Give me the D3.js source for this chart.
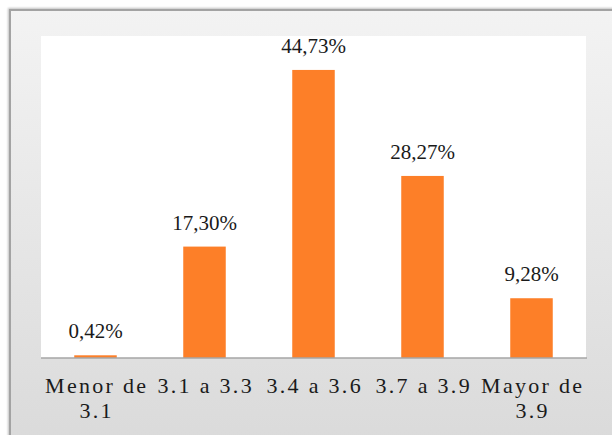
<!DOCTYPE html>
<html>
<head>
<meta charset="utf-8">
<script src="https://cdn.jsdelivr.net/npm/d3@7"></script>
<style>
  html, body { margin: 0; padding: 0; background: #fff; }
  svg { display: block; }
</style>
</head>
<body>
<div id="chart"></div>
<script>
// chart values
const categories = ['Menor de 3.1', '3.1 a 3.3', '3.4 a 3.6', '3.7 a 3.9', 'Mayor de 3.9'];
const categoryLines = [['Menor de', '3.1'], ['3.1 a 3.3'], ['3.4 a 3.6'], ['3.7 a 3.9'], ['Mayor de', '3.9']];
const percentages = [0.42, 17.30, 44.73, 28.27, 9.28];
const valueLabels = ['0,42%', '17,30%', '44,73%', '28,27%', '9,28%'];

const width = 612, height = 435;
const plot = {left: 41, right: 586, top: 36, bottom: 358};
const serif = 'Liberation Serif';

const svg = d3.select('#chart').append('svg')
  .attr('width', width)
  .attr('height', height);

const defs = svg.append('defs');
const grad = defs.append('linearGradient')
  .attr('id', 'bg')
  .attr('x1', 0).attr('y1', 0).attr('x2', 0).attr('y2', 1);
grad.append('stop').attr('offset', '0%').attr('stop-color', '#f3f3f3');
grad.append('stop').attr('offset', '100%').attr('stop-color', '#d9d9d9');

const shadow = defs.append('filter').attr('id', 'sh')
  .attr('x', '-5%').attr('y', '-5%').attr('width', '110%').attr('height', '110%');
shadow.append('feGaussianBlur').attr('in', 'SourceAlpha').attr('stdDeviation', 1.2);
shadow.append('feOffset').attr('dx', -1).attr('dy', -1);
shadow.append('feComponentTransfer').append('feFuncA').attr('type', 'linear').attr('slope', 0.25);
const merge = shadow.append('feMerge');
merge.append('feMergeNode');
merge.append('feMergeNode').attr('in', 'SourceGraphic');

// chart frame
svg.append('rect')
  .attr('x', 10).attr('y', 10)
  .attr('width', width + 20).attr('height', height + 20)
  .attr('fill', 'url(#bg)')
  .attr('stroke', '#a3a3a3')
  .attr('stroke-width', 2)
  .attr('filter', 'url(#sh)');

// plot area
svg.append('rect')
  .attr('x', plot.left).attr('y', plot.top)
  .attr('width', plot.right - plot.left)
  .attr('height', plot.bottom - plot.top)
  .attr('fill', '#ffffff');

const xScale = d3.scaleBand()
  .domain(categories)
  .range([plot.left, plot.right])
  .paddingInner(0.61)
  .paddingOuter(0.305);

const yScale = d3.scaleLinear()
  .domain([0, 50])
  .range([plot.bottom, plot.top]);

const data = categories.map((c, i) => ({cat: c, value: percentages[i], label: valueLabels[i]}));

svg.append('g').selectAll('rect')
  .data(data)
  .enter().append('rect')
  .attr('x', d => xScale(d.cat))
  .attr('y', d => yScale(d.value))
  .attr('width', xScale.bandwidth())
  .attr('height', d => plot.bottom - yScale(d.value))
  .attr('fill', '#fd7f28');

svg.append('g').selectAll('text')
  .data(data)
  .enter().append('text')
  .attr('x', d => xScale(d.cat) + xScale.bandwidth() / 2)
  .attr('y', d => yScale(d.value) - 17)
  .attr('text-anchor', 'middle')
  .attr('font-family', serif)
  .attr('font-size', 21)
  .attr('fill', '#1a1a1a')
  .text(d => d.label);

// x axis
const xAxis = svg.append('g')
  .attr('transform', 'translate(0,' + plot.bottom + ')')
  .call(d3.axisBottom(xScale).tickSize(0).tickFormat(''))
  .attr('font-family', serif);
xAxis.select('.domain')
  .attr('d', 'M' + plot.left + ',0H' + (plot.right + 1))
  .attr('stroke', '#a6a6a6')
  .attr('stroke-width', 1.5);

xAxis.selectAll('.tick').each(function (c, i) {
  const t = d3.select(this).append('text')
    .attr('text-anchor', 'middle')
    .attr('font-family', serif)
    .attr('font-size', 22)
    .attr('letter-spacing', 2.3)
    .attr('fill', '#1a1a1a')
    .attr('y', 35);
  categoryLines[i].forEach((line, j) => {
    t.append('tspan')
      .attr('x', 1.2)
      .attr('dy', j === 0 ? 0 : 25)
      .text(line);
  });
});
</script>
</body>
</html>
